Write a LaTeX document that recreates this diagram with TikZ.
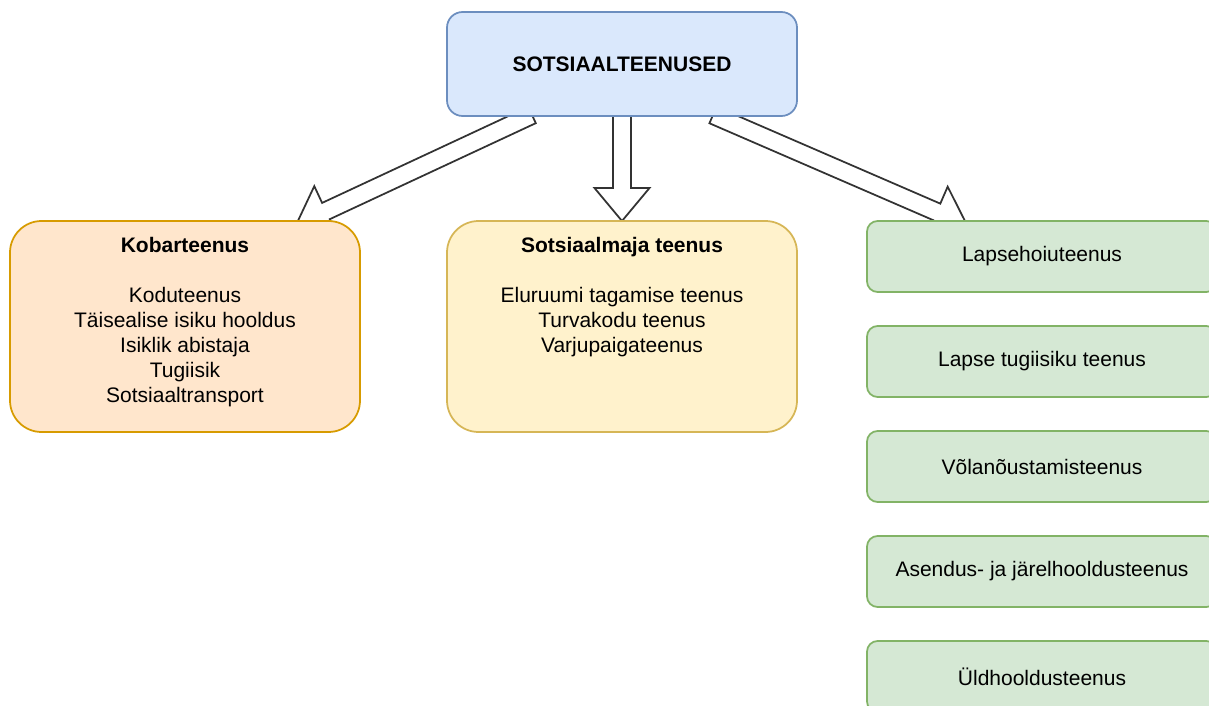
\documentclass[tikz,border=0pt]{standalone}
\usepackage{fontspec}
\setmainfont{Liberation Sans}
\usetikzlibrary{calc,positioning,backgrounds}

\definecolor{rootfill}{HTML}{DAE8FC}
\definecolor{rootline}{HTML}{6C8EBF}
\definecolor{kobarfill}{HTML}{FFE6CC}
\definecolor{kobarline}{HTML}{D79B00}
\definecolor{majafill}{HTML}{FFF2CC}
\definecolor{majaline}{HTML}{D6B656}
\definecolor{servfill}{HTML}{D5E8D4}
\definecolor{servline}{HTML}{82B366}
\definecolor{flowline}{HTML}{333333}

\begin{document}
\begin{tikzpicture}[
    x=1pt, y=-1pt,
    node distance=34pt,
    align=center,
    font=\fontsize{21}{25}\selectfont,
    box/.style={rectangle, minimum width=350pt, inner sep=0pt, outer sep=0pt,
      line width=1.75pt},
    root/.style={box, rounded corners=15.6pt, minimum height=104pt,
      fill=rootfill, draw=rootline},
    group/.style={box, rounded corners=31.6pt, minimum height=211pt},
    single/.style={box, rounded corners=10.6pt, minimum height=71pt,
      fill=servfill, draw=servline},
    flow/.style={line width=1.75pt, draw=flowline, fill=white,
      to path={let \p1=($(\tikztotarget)!33pt!(\tikztostart)$) in
        ($(\tikztostart)!9pt!90:(\tikztotarget)$)
        -- ($(\p1)!9pt!90:(\tikztotarget)$)
        -- ($(\p1)!27.5pt!90:(\tikztotarget)$)
        -- (\tikztotarget)
        -- ($(\p1)!27.5pt!-90:(\tikztotarget)$)
        -- ($(\p1)!9pt!-90:(\tikztotarget)$)
        -- ($(\tikztostart)!9pt!-90:(\tikztotarget)$)
        -- cycle}}
  ]

  \useasboundingbox (0,0) rectangle (1209,706);
  \clip (0,0) rectangle (1209,706);

  % top and the three columns

  \node (social)  [root] at (622,64)                {\textbf{SOTSIAALTEENUSED}};

  \node (housing) [group, fill=majafill, draw=majaline,
                   text height=131pt, text depth=80pt,
                   below=105pt of social]          {\textbf{Sotsiaalmaja teenus}\\[25pt]
                                                    Eluruumi tagamise teenus\\
                                                    Turvakodu teenus\\
                                                    Varjupaigateenus};

  \node (cluster) [group, fill=kobarfill, draw=kobarline,
                   text height=181pt, text depth=30pt,
                   left=87pt of housing]           {\textbf{Kobarteenus}\\[25pt]
                                                    Koduteenus\\
                                                    Täisealise isiku hooldus\\
                                                    Isiklik abistaja\\
                                                    Tugiisik\\
                                                    Sotsiaaltransport};

  \node (childcare) [single, right=70pt of housing.north east,
                     anchor=north west]            {Lapsehoiuteenus};
  \node (childsup)  [single, below=of childcare]   {Lapse tugiisiku teenus};
  \node (debt)      [single, below=of childsup]    {Võlanõustamisteenus};
  \node (foster)    [single, below=of debt]        {Asendus- ja järelhooldusteenus};
  \node (general)   [single, below=of foster]      {Üldhooldusteenus};

  % arrow ends
  \coordinate (ltail) at ($(social.south)+(-90,-1)$);
  \coordinate (ltip)  at ($(cluster.north)+(111,4)$);
  \coordinate (rtail) at ($(social.south)+(91,-1)$);
  \coordinate (rtip)  at ($(childcare.north west)+(100,4)$);

  \begin{pgfonlayer}{background}
    \draw[flow] (ltail) to (ltip);
    \draw[flow] (social.south) to (housing.north);
    \draw[flow] (rtail) to (rtip);
  \end{pgfonlayer}

\end{tikzpicture}
\end{document}
